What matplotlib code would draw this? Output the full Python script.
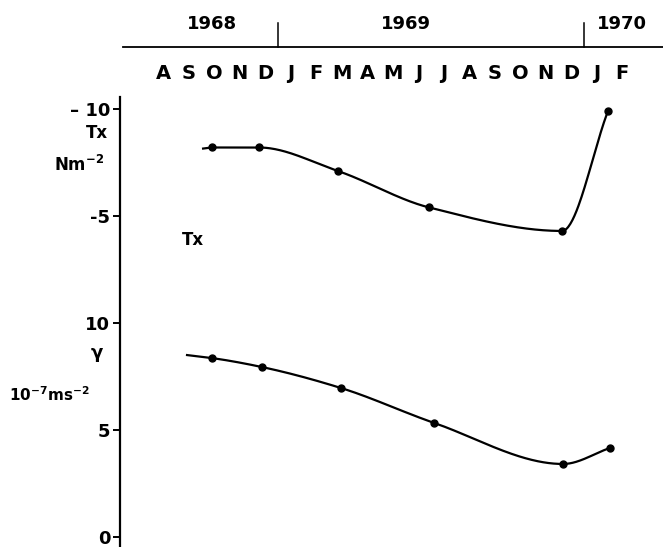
import matplotlib.pyplot as plt
import matplotlib.transforms as mtransforms
import numpy as np

# months counted from 1 Jan 1969 (0 = start of Jan 1969)
months = ["A", "S", "O", "N", "D", "J", "F", "M", "A", "M", "J", "J",
          "A", "S", "O", "N", "D", "J", "F"]
month_pos = np.arange(-4.5, 14.0, 1.0)
years = ["1968", "1969", "1970"]
year_pos = [-2.6, 5.0, 13.5]
year_ticks = [0, 12]

# wind stress Tx (N m^-2)
tx_time = [-2.59, -0.75, 2.35, 5.92, 11.14, 12.94]
tx_vals = [-8.2, -8.2, -7.1, -5.4, -4.3, -9.9]
tx_start = (-2.94, -8.15)

# gamma (10^-7 m s^-2)
g_time = [-2.59, -0.63, 2.47, 6.12, 11.18, 13.02]
g_vals = [8.36, 7.94, 6.96, 5.33, 3.41, 4.16]
g_start = (-3.57, 8.5)

tx_offset = 10  # Tx axis sits above the gamma axis: -5 -> 15, -10 -> 20


def pchip(x, y, xs):
    # monotone cubic (Fritsch-Carlson) so the curve does not overshoot
    x = np.asarray(x, float)
    y = np.asarray(y, float)
    h = np.diff(x)
    d = np.diff(y) / h
    n = len(x)
    m = np.zeros(n)
    for k in range(1, n - 1):
        if d[k - 1] * d[k] > 0:
            w1 = 2 * h[k] + h[k - 1]
            w2 = h[k] + 2 * h[k - 1]
            m[k] = (w1 + w2) / (w1 / d[k - 1] + w2 / d[k])
    m[0] = d[0]
    m[-1] = d[-1]
    i = np.clip(np.searchsorted(x, xs) - 1, 0, n - 2)
    t = (xs - x[i]) / h[i]
    h00 = 2 * t**3 - 3 * t**2 + 1
    h10 = t**3 - 2 * t**2 + t
    h01 = -2 * t**3 + 3 * t**2
    h11 = t**3 - t**2
    return h00 * y[i] + h10 * h[i] * m[i] + h01 * y[i + 1] + h11 * h[i] * m[i + 1]


fig = plt.figure(figsize=(6.63, 5.47), dpi=100)
ax = fig.add_axes([120 / 663, 0, 1 - 120 / 663, 450 / 547])
ax.set_xlim(-6.2, 15.1)
ax.set_ylim(-0.47, 20.56)

# curves
tx_u = [tx_offset - v for v in tx_vals]
kx = [tx_start[0]] + tx_time
ky = [tx_offset - tx_start[1]] + tx_u
xs = np.linspace(kx[0], kx[-1], 400)
ax.plot(xs, pchip(kx, ky, xs), color="black", lw=1.6)
ax.plot(tx_time, tx_u, "o", color="black", ms=5)

kx = [g_start[0]] + g_time
ky = [g_start[1]] + g_vals
xs = np.linspace(kx[0], kx[-1], 400)
ax.plot(xs, pchip(kx, ky, xs), color="black", lw=1.6)
ax.plot(g_time, g_vals, "o", color="black", ms=5)

# axes styling
for s in ["top", "right", "bottom"]:
    ax.spines[s].set_visible(False)
ax.spines["left"].set_linewidth(1.6)
ax.set_xticks([])
ax.set_yticks([0, 5, 10, 15, 20])
ax.set_yticklabels(["0", "5", "10", "-5", "\u2013 10"], fontsize=13,
                   fontweight="bold")
ax.tick_params(axis="y", length=5, width=1.4, pad=2)

# time scale on top
trans = mtransforms.blended_transform_factory(ax.transData, ax.transAxes)
ax.plot([-6.08, 15.1], [1.111, 1.111], color="black", lw=1.3,
        transform=trans, clip_on=False)
for xt in year_ticks:
    ax.plot([xt, xt], [1.111, 1.165], color="black", lw=1.1,
            transform=trans, clip_on=False)
for xp, yr in zip(year_pos, years):
    ax.text(xp, 1.163, yr, transform=trans, ha="center", va="center",
            fontsize=13, fontweight="bold")
for xp, m in zip(month_pos, months):
    ax.text(xp, 1.052, m, transform=trans, ha="center", va="center",
            fontsize=14, fontweight="semibold",
            family=["Liberation Sans Narrow", "DejaVu Sans"])

# axis labels
fig.text(108 / 663, 1 - 133 / 547, "Tx", ha="right", va="center",
         fontsize=12, fontweight="bold")
fig.text(104 / 663, 1 - 165 / 547, "Nm$^{\\mathbf{-2}}$", ha="right",
         va="center", fontsize=12, fontweight="bold")
fig.text(193 / 663, 1 - 240 / 547, "Tx", ha="center", va="center",
         fontsize=12, fontweight="bold")
fig.text(97 / 663, 1 - 353 / 547, "\u03b3", ha="center", va="center",
         fontsize=13, fontweight="bold")
fig.text(90 / 663, 1 - 395 / 547, "10$^{\\mathbf{-7}}$ms$^{\\mathbf{-2}}$",
         ha="right", va="center", fontsize=11, fontweight="bold")

fig.savefig("out.png", dpi=100)
